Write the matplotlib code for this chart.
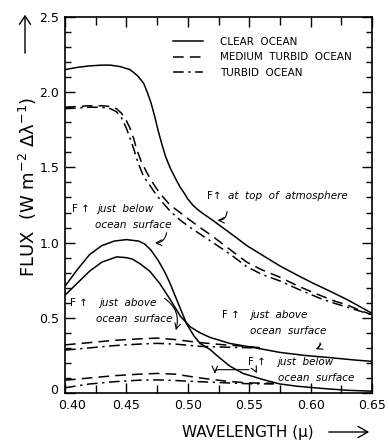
import numpy as np
import matplotlib
matplotlib.use("Agg")
import matplotlib.pyplot as plt
from matplotlib.ticker import MultipleLocator
from matplotlib.transforms import ScaledTranslation

# F up at top of atmosphere
toa_clear_x = [0.40, 0.41, 0.42, 0.43, 0.437, 0.445, 0.453, 0.459, 0.464, 0.467, 0.470, 0.473,
               0.476, 0.479, 0.482, 0.486, 0.491, 0.4937, 0.497, 0.500, 0.504, 0.508, 0.512,
               0.520, 0.530, 0.540, 0.548, 0.560, 0.575, 0.590, 0.602, 0.615, 0.630, 0.640, 0.65]
toa_clear_y = [2.15, 2.165, 2.175, 2.18, 2.18, 2.17, 2.15, 2.11, 2.06, 2.00, 1.93, 1.84,
               1.74, 1.65, 1.57, 1.49, 1.41, 1.37, 1.33, 1.29, 1.25, 1.22, 1.195,
               1.15, 1.09, 1.03, 0.98, 0.92, 0.845, 0.78, 0.73, 0.68, 0.62, 0.575, 0.53]
toa_med_x = [0.40, 0.41, 0.42, 0.43, 0.437, 0.442, 0.446, 0.450, 0.453, 0.456, 0.458, 0.462,
             0.467, 0.472, 0.477, 0.4855, 0.4937, 0.500, 0.510, 0.5205, 0.535, 0.548, 0.560,
             0.575, 0.590, 0.6075, 0.62, 0.63, 0.64, 0.65]
toa_med_y = [1.90, 1.905, 1.91, 1.91, 1.905, 1.89, 1.86, 1.81, 1.76, 1.69, 1.63, 1.54,
             1.46, 1.39, 1.33, 1.25, 1.20, 1.16, 1.10, 1.04, 0.95, 0.87, 0.82,
             0.77, 0.71, 0.65, 0.61, 0.585, 0.55, 0.52]
toa_turb_x = [0.40, 0.41, 0.42, 0.43, 0.437, 0.442, 0.446, 0.450, 0.454, 0.4565, 0.4595, 0.464,
              0.470, 0.475, 0.4855, 0.4937, 0.502, 0.5205, 0.535, 0.548, 0.560, 0.575, 0.590,
              0.6075, 0.62, 0.63, 0.64, 0.65]
toa_turb_y = [1.89, 1.895, 1.90, 1.90, 1.89, 1.87, 1.83, 1.76, 1.67, 1.61, 1.53, 1.44,
              1.37, 1.31, 1.21, 1.15, 1.10, 1.00, 0.92, 0.84, 0.79, 0.745, 0.69,
              0.63, 0.595, 0.57, 0.545, 0.52]

# clear ocean, just below / just above surface
below_clear_x = [0.40, 0.41, 0.42, 0.43, 0.44, 0.45, 0.46, 0.465, 0.47, 0.476, 0.4815, 0.4855,
                 0.490, 0.494, 0.499, 0.505, 0.51, 0.518, 0.525, 0.534, 0.545, 0.561, 0.575,
                 0.589, 0.61, 0.63, 0.65]
below_clear_y = [0.71, 0.82, 0.92, 0.98, 1.01, 1.02, 1.01, 0.99, 0.95, 0.88, 0.80, 0.73,
                 0.64, 0.56, 0.46, 0.38, 0.33, 0.29, 0.24, 0.18, 0.13, 0.09, 0.06,
                 0.045, 0.03, 0.018, 0.012]
above_clear_x = [0.40, 0.41, 0.42, 0.43, 0.442, 0.45, 0.455, 0.461, 0.469, 0.477, 0.485, 0.494,
                 0.502, 0.51, 0.518, 0.534, 0.555, 0.575, 0.595, 0.616, 0.635, 0.65]
above_clear_y = [0.65, 0.73, 0.81, 0.87, 0.905, 0.90, 0.89, 0.86, 0.81, 0.73, 0.63, 0.51,
                 0.44, 0.40, 0.37, 0.33, 0.30, 0.27, 0.25, 0.235, 0.22, 0.21]

# turbid cases near the surface
above_med_x = [0.40, 0.42, 0.44, 0.46, 0.475, 0.49, 0.51, 0.53, 0.548, 0.56]
above_med_y = [0.32, 0.335, 0.35, 0.36, 0.365, 0.355, 0.335, 0.32, 0.31, 0.30]
above_turb_x = [0.40, 0.42, 0.44, 0.46, 0.475, 0.49, 0.51, 0.53, 0.555]
above_turb_y = [0.285, 0.30, 0.315, 0.325, 0.33, 0.325, 0.31, 0.305, 0.30]
below_med_x = [0.40, 0.42, 0.44, 0.46, 0.475, 0.49, 0.51, 0.53, 0.548, 0.57]
below_med_y = [0.085, 0.10, 0.115, 0.125, 0.13, 0.125, 0.10, 0.08, 0.067, 0.065]
below_turb_x = [0.40, 0.42, 0.44, 0.46, 0.475, 0.49, 0.51, 0.53, 0.548, 0.57]
below_turb_y = [0.035, 0.06, 0.075, 0.085, 0.087, 0.083, 0.075, 0.068, 0.062, 0.06]

xticks = [0.40, 0.45, 0.50, 0.55, 0.60, 0.65]
xticklabels = ["0.40", "0.45", "0.50", "0.55", "0.60", "0.65"]
yticks = [0, 0.5, 1.0, 1.5, 2.0, 2.5]
yticklabels = ["0", "0.5", "1.0", "1.5", "2.0", "2.5"]

dash = (0, (7, 4))
dashdot = (0, (7, 3, 1.5, 3))
lw = 1.1
col = "black"

fig = plt.figure(figsize=(3.89, 4.43), dpi=100)
ax = fig.add_axes([65 / 389, 1 - 393 / 443, 307 / 389, 376 / 443])

kw = dict(color=col, lw=lw, solid_joinstyle="round", dash_joinstyle="round")
ax.plot(toa_clear_x, toa_clear_y, label="CLEAR  OCEAN", **kw)
ax.plot(toa_med_x, toa_med_y, linestyle=dash, label="MEDIUM  TURBID  OCEAN", **kw)
ax.plot(toa_turb_x, toa_turb_y, linestyle=dashdot, label="TURBID  OCEAN", **kw)
ax.plot(below_clear_x, below_clear_y, **kw)
ax.plot(above_clear_x, above_clear_y, **kw)
ax.plot(above_med_x, above_med_y, linestyle=dash, **kw)
ax.plot(above_turb_x, above_turb_y, linestyle=dashdot, **kw)
ax.plot(below_med_x, below_med_y, linestyle=dash, **kw)
ax.plot(below_turb_x, below_turb_y, linestyle=dashdot, **kw)

ax.set_xlim(0.40, 0.65)
ax.set_ylim(0, 2.5)
ax.set_xticks(xticks)
ax.set_xticklabels(xticklabels, fontsize=9)
ax.set_yticks(yticks)
ax.set_yticklabels(yticklabels, fontsize=9)
ax.xaxis.set_minor_locator(MultipleLocator(0.025))
ax.yaxis.set_minor_locator(MultipleLocator(0.1))
ax.tick_params(which="both", direction="in", top=True, right=True, width=1.0)
ax.tick_params(which="major", length=7, pad=4)
ax.tick_params(axis="x", which="minor", length=6)
ax.tick_params(axis="y", which="minor", length=4.5)
for s in ax.spines.values():
    s.set_linewidth(1.2)

# nudge the corner labels apart like the original
lbl = ax.get_xticklabels()[0]
lbl.set_transform(lbl.get_transform() + ScaledTranslation(5 / 72, 0, fig.dpi_scale_trans))
lbl = ax.get_yticklabels()[0]
lbl.set_transform(lbl.get_transform() + ScaledTranslation(-1 / 72, 3 / 72, fig.dpi_scale_trans))

leg = ax.legend(loc="upper left", bbox_to_anchor=(0.352, 0.948), frameon=False, fontsize=7.5,
                handlelength=2.9, handletextpad=1.6, labelspacing=0.55, borderpad=0,
                borderaxespad=0)

# annotations
ital = dict(fontsize=7.5, style="italic", va="center")
up = dict(fontsize=7.5, va="center")

ax.text(0.5156, 1.31, "F↑", **up)
ax.text(0.5327, 1.31, "at  top  of  atmosphere", **ital)
ax.annotate("", xy=(0.522, 1.15), xytext=(0.532, 1.225),
            arrowprops=dict(arrowstyle="->", lw=0.8, connectionstyle="arc3,rad=-0.6"))

ax.text(0.4057, 1.223, "F ↑", **up)
ax.text(0.4261, 1.223, "just  below", **ital)
ax.text(0.4244, 1.117, "ocean  surface", **ital)
ax.annotate("", xy=(0.471, 0.997), xytext=(0.483, 1.084),
            arrowprops=dict(arrowstyle="->", lw=0.8, connectionstyle="arc3,rad=-0.5"))

ax.text(0.4041, 0.598, "F ↑", **up)
ax.text(0.4277, 0.598, "just  above", **ital)
ax.text(0.4252, 0.492, "ocean  surface", **ital)
ax.annotate("", xy=(0.4896, 0.40), xytext=(0.479, 0.64),
            arrowprops=dict(arrowstyle="->", lw=0.8, connectionstyle="arc3,rad=-0.4"))

ax.text(0.5279, 0.519, "F ↑", **up)
ax.text(0.5507, 0.519, "just  above", **ital)
ax.text(0.5507, 0.412, "ocean  surface", **ital)
ax.annotate("", xy=(0.602, 0.286), xytext=(0.6076, 0.352),
            arrowprops=dict(arrowstyle="->", lw=0.8, connectionstyle="arc3,rad=-0.5"))

ax.text(0.549, 0.206, "F ↑", **up)
ax.text(0.5726, 0.206, "just  below", **ital)
ax.text(0.5735, 0.10, "ocean  surface", **ital)
ax.annotate("", xy=(0.522, 0.115), xytext=(0.552, 0.155),
            arrowprops=dict(arrowstyle="->", lw=0.8,
                            connectionstyle="angle,angleA=180,angleB=90,rad=3"))
ax.annotate("", xy=(0.557, 0.115), xytext=(0.553, 0.155),
            arrowprops=dict(arrowstyle="->", lw=0.8, connectionstyle="arc3,rad=-0.3"))

# axis titles with arrows
fig.text(28 / 389, 1 - 187 / 443, "FLUX  (W m$^{-2}$ Δλ$^{-1}$)", rotation=90,
         ha="center", va="center", fontsize=13)
fig.add_artist(matplotlib.patches.FancyArrowPatch(
    (25 / 389, 1 - 56 / 443), (25 / 389, 1 - 12 / 443), transform=fig.transFigure,
    arrowstyle="->,head_length=6,head_width=4", lw=1.0, color=col))
fig.text(248 / 389, 1 - 432 / 443, "WAVELENGTH (μ)", ha="center", va="center", fontsize=11)
fig.add_artist(matplotlib.patches.FancyArrowPatch(
    (326 / 389, 1 - 432 / 443), (372 / 389, 1 - 432 / 443), transform=fig.transFigure,
    arrowstyle="->,head_length=7,head_width=4", lw=1.0, color=col))

fig.savefig("out.png", dpi=100)
